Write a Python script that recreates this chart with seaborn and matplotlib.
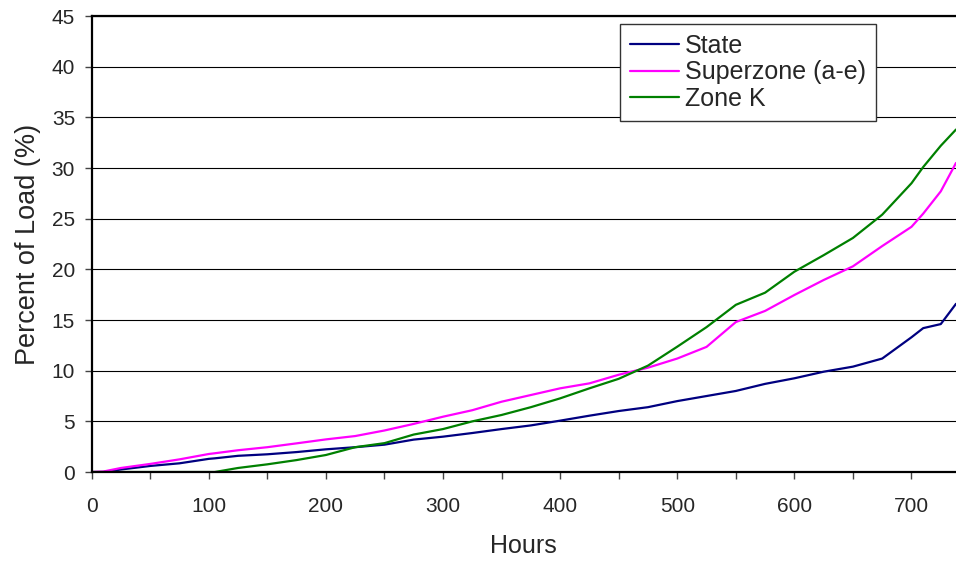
import numpy as np
import pandas as pd
import matplotlib
matplotlib.use("Agg")
import matplotlib.pyplot as plt
from matplotlib.ticker import MultipleLocator
import seaborn as sns

# hours and cumulative percent of load
hours = [0, 10, 25, 50, 75, 100, 105, 125, 150, 175, 200, 225, 250, 275, 300,
         325, 350, 375, 400, 425, 450, 475, 500, 525, 550, 575, 600, 625, 650,
         675, 700, 710, 725, 738]
state = [0, 0, 0.25, 0.6, 0.86, 1.3, 1.35, 1.6, 1.75, 1.97, 2.24, 2.45, 2.7,
         3.2, 3.49, 3.85, 4.24, 4.6, 5.07, 5.56, 6.02, 6.4, 7.0, 7.5, 8.0, 8.7,
         9.25, 9.9, 10.4, 11.2, 13.3, 14.2, 14.6, 16.6]
superzone = [0, 0.05, 0.4, 0.8, 1.25, 1.78, 1.85, 2.15, 2.45, 2.83, 3.22, 3.55,
             4.1, 4.75, 5.46, 6.1, 6.94, 7.6, 8.26, 8.75, 9.6, 10.3, 11.2, 12.35,
             14.8, 15.9, 17.47, 18.95, 20.3, 22.3, 24.2, 25.5, 27.7, 30.5]
zone_k = [0, 0, 0, 0, 0, 0, 0, 0.4, 0.76, 1.18, 1.68, 2.45, 2.85, 3.7, 4.24,
          5.0, 5.63, 6.4, 7.27, 8.26, 9.2, 10.5, 12.37, 14.3, 16.5, 17.7, 19.77,
          21.4, 23.1, 25.4, 28.5, 30.1, 32.2, 33.8]

series_names = ["State", "Superzone (a-e)", "Zone K"]
colors = ["#000080", "#FF00FF", "#008000"]

df = pd.DataFrame({"hours": hours, series_names[0]: state,
                   series_names[1]: superzone, series_names[2]: zone_k})
long_df = df.melt(id_vars="hours", var_name="series", value_name="pct")

sns.set_style("white")
plt.rcParams["font.family"] = ["Liberation Sans", "DejaVu Sans"]

fig = plt.figure(figsize=(9.56, 5.61), dpi=100)
ax = fig.add_axes([0.0959, 0.1586, 0.9041, 0.8128])

sns.lineplot(data=long_df, x="hours", y="pct", hue="series",
             palette=dict(zip(series_names, colors)), linewidth=1.6,
             ax=ax, legend=False)

ax.set_xlim(0, 738)
ax.set_ylim(0, 45)
ax.xaxis.set_major_locator(MultipleLocator(100))
ax.xaxis.set_minor_locator(MultipleLocator(50))
ax.yaxis.set_major_locator(MultipleLocator(5))
ax.yaxis.grid(True, color="black", linewidth=0.8)
ax.set_axisbelow(True)

for side in ["left", "bottom", "top"]:
    ax.spines[side].set_color("black")
    ax.spines[side].set_linewidth(1.6)
ax.spines["right"].set_visible(False)

ax.tick_params(axis="x", which="both", direction="out", length=5, width=1,
               color="#444444", bottom=True, pad=13, labelsize=15)
ax.tick_params(axis="y", direction="out", length=5, width=1, color="#444444",
               left=True, pad=7, labelsize=15)

ax.set_xlabel("Hours", fontsize=18, labelpad=13)
ax.set_ylabel("Percent of Load (%)", fontsize=19.5, labelpad=8)

handles = [plt.Line2D([], [], color=c, linewidth=1.6) for c in colors]
leg = ax.legend(handles, series_names, loc="upper left",
                bbox_to_anchor=(620 / 956, 1 - 24 / 561),
                bbox_transform=fig.transFigure, fontsize=18, frameon=True,
                fancybox=False, edgecolor="#333333", framealpha=1,
                handlelength=1.95, handletextpad=0.25, labelspacing=0.1,
                borderpad=0.4, borderaxespad=0)
leg.get_frame().set_linewidth(1.0)

fig.savefig("out.png", dpi=100)
